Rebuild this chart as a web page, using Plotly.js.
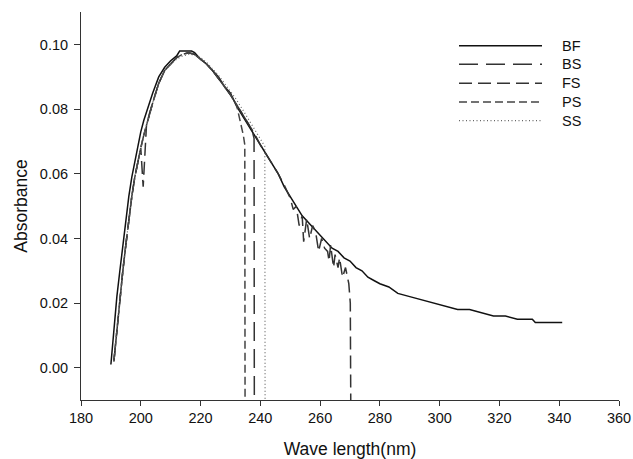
<!DOCTYPE html>
<html>
<head>
<meta charset="utf-8">
<script src="https://cdn.plot.ly/plotly-3.0.1.min.js"></script>
<style>html,body{margin:0;padding:0;background:#fff;}#chart{width:633px;height:459px;}</style>
</head>
<body>
<div id="chart"></div>
<script>
// ---- data ----
const seriesNames = ["BF", "BS", "FS", "PS", "SS"];

const bfX = [190,191,192,193,194,195,196,197,198,199,200,201,202,203,204,206,208,210,212,213,217,218,220,222,224,226,228,230,232,234,236,238,240,242,244,246,248,250,252,254,256,258,260,262,264,266,268,270,272,274,276,278,280,283,286,290,294,298,302,306,310,314,318,322,326,331,332,341];
const bfY = [0.001,0.012,0.022,0.030,0.038,0.046,0.053,0.059,0.064,0.069,0.073,0.0765,0.0795,0.0825,0.085,0.090,0.093,0.095,0.0965,0.098,0.098,0.0975,0.0955,0.094,0.092,0.090,0.087,0.085,0.081,0.078,0.075,0.072,0.069,0.066,0.063,0.060,0.056,0.053,0.050,0.047,0.045,0.043,0.041,0.039,0.037,0.036,0.034,0.033,0.031,0.030,0.028,0.027,0.026,0.025,0.023,0.022,0.021,0.020,0.019,0.018,0.018,0.017,0.016,0.016,0.015,0.015,0.014,0.014];

const bsX = [191,192,193,194,195,196,197,198,199,200,201,202,204,206,208,210,212,214,216,218,220,222,224,226,228,230,232,234,236,237.5,237.9,238];
const bsY = [0.002,0.012,0.021,0.030,0.038,0.046,0.053,0.059,0.064,0.068,0.072,0.0755,0.082,0.088,0.092,0.094,0.096,0.097,0.0975,0.097,0.0955,0.094,0.092,0.0895,0.087,0.0845,0.0815,0.0785,0.0755,0.0725,0.071,-0.02];

const fsX = [191,192,193,194,195,196,197,198,199,200,200.8,201.9,203,204,206,208,210,212,214,216,218,220,222,224,226,228,230,232,234,236,238,240,242,244,246,248,250,251,252,253,254,254.5,255.5,256.5,257.5,258.5,259.5,260.5,261.5,262.5,263,263.5,264.5,265,266,266.5,267.5,268.5,269,269.6,270.1,270.3];
const fsY = [0.002,0.012,0.021,0.030,0.038,0.046,0.053,0.059,0.064,0.068,0.056,0.075,0.079,0.082,0.088,0.092,0.094,0.096,0.097,0.0975,0.097,0.0955,0.094,0.092,0.0895,0.087,0.0845,0.0815,0.0785,0.0755,0.0725,0.069,0.066,0.063,0.060,0.0565,0.0525,0.049,0.050,0.044,0.047,0.039,0.046,0.040,0.044,0.042,0.036,0.040,0.037,0.036,0.033,0.038,0.031,0.035,0.031,0.034,0.028,0.031,0.029,0.026,0.020,-0.02];

const psX = [191,192,193,194,195,196,197,198,199,200,201,202,204,206,208,210,212,214,216,218,220,222,224,226,228,230,232,233.2,233.8,234.3,234.8,234.9];
const psY = [0.002,0.012,0.021,0.030,0.038,0.046,0.053,0.059,0.064,0.068,0.072,0.0755,0.082,0.088,0.092,0.094,0.096,0.097,0.0975,0.097,0.0955,0.094,0.092,0.0895,0.087,0.0845,0.0815,0.077,0.0745,0.072,0.069,-0.02];

const ssX = [191,192,193,194,195,196,197,198,199,200,201,202,204,206,208,210,212,214,216,218,220,222,224,226,228,230,232,234,236,238,240,241.5,241.6];
const ssY = [0.002,0.012,0.021,0.030,0.038,0.046,0.053,0.059,0.064,0.068,0.072,0.0755,0.082,0.088,0.092,0.094,0.0955,0.0965,0.097,0.0968,0.096,0.0945,0.0925,0.0905,0.088,0.0855,0.083,0.080,0.077,0.074,0.071,0.0685,-0.02];

const xTickVals = [180,200,220,240,260,280,300,320,340,360];
const yTickVals = [0.00,0.02,0.04,0.06,0.08,0.10];

// ---- styles ----
const styles = [
  {color:"#111111", dash:"solid", width:1.5},
  {color:"#333333", dash:"19px,8px", width:1.5},
  {color:"#333333", dash:"13px,6px", width:1.5},
  {color:"#444444", dash:"8px,4px", width:1.5},
  {color:"#666666", dash:"1px,2.5px", width:1.2}
];
const xs = [bfX, bsX, fsX, psX, ssX];
const ys = [bfY, bsY, fsY, psY, ssY];

const traces = seriesNames.map((n, i) => ({
  x: xs[i], y: ys[i], name: n, type: "scatter", mode: "lines",
  line: {color: styles[i].color, dash: styles[i].dash, width: styles[i].width},
  showlegend: false, hoverinfo: "skip"
}));

// custom legend (long line samples as in the reference)
const legRowsPx = [45.7, 64.3, 83.3, 102, 120.7];
const plotTop = 12, plotBottom = 400, plotLeft = 81, plotRight = 619;
const toPy = p => (plotBottom - p) / (plotBottom - plotTop);
const toPx = p => (p - plotLeft) / (plotRight - plotLeft);
const shapes = seriesNames.map((n, i) => ({
  type: "line", xref: "paper", yref: "paper",
  x0: toPx(459), x1: toPx(542), y0: toPy(legRowsPx[i]), y1: toPy(legRowsPx[i]),
  line: {color: styles[i].color, dash: styles[i].dash, width: styles[i].width}
}));
const annotations = seriesNames.map((n, i) => ({
  text: n, xref: "paper", yref: "paper", x: toPx(560), y: toPy(legRowsPx[i]),
  xanchor: "left", yanchor: "middle", showarrow: false,
  font: {family: "Liberation Sans, Arial, sans-serif", size: 14.5, color: "#111"}
}));

const font = {family: "Liberation Sans, Arial, sans-serif", size: 14.5, color: "#111"};
const layout = {
  width: 633, height: 459,
  margin: {l: 81, r: 14, t: 12, b: 59, pad: 0},
  paper_bgcolor: "#fff", plot_bgcolor: "#fff",
  font: font,
  showlegend: false,
  xaxis: {
    range: [180, 360], tickvals: xTickVals, ticktext: xTickVals.map(String),
    ticks: "outside", ticklen: 5, tickwidth: 1, tickcolor: "#333",
    showline: true, linecolor: "#333", linewidth: 1, mirror: false,
    showgrid: false, zeroline: false,
    tickfont: font,
    title: {text: "Wave length(nm)", font: {family: font.family, size: 17.5, color: "#111"}, standoff: 20}
  },
  yaxis: {
    range: [-0.01, 0.1101], tickvals: yTickVals, ticktext: yTickVals.map(v => v.toFixed(2)),
    ticks: "outside", ticklen: 6, tickwidth: 1, tickcolor: "#333",
    showline: true, linecolor: "#333", linewidth: 1, mirror: false,
    showgrid: false, zeroline: false,
    tickfont: font, ticklabelstandoff: 3,
    title: {text: "Absorbance", font: {family: font.family, size: 17.5, color: "#111"}, standoff: 7}
  },
  shapes: shapes,
  annotations: annotations
};

Plotly.newPlot("chart", traces, layout, {displayModeBar: false, staticPlot: true});
</script>
</body>
</html>
